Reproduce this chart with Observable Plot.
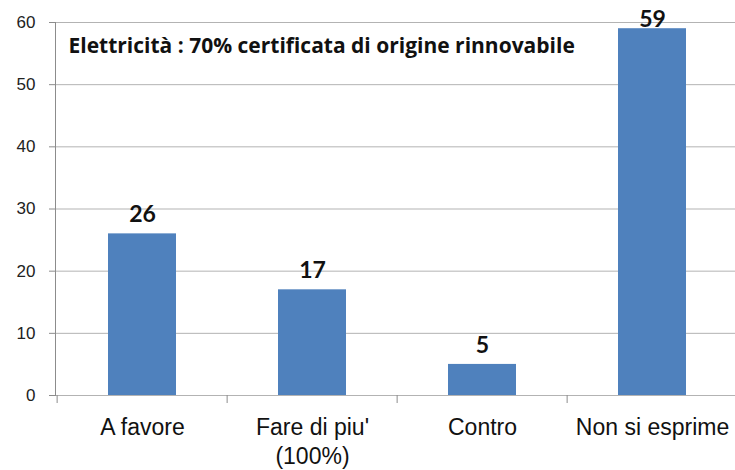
<!DOCTYPE html>
<html>
<head>
<meta charset="utf-8">
<script src="https://cdn.jsdelivr.net/npm/d3@7"></script>
<script src="https://cdn.jsdelivr.net/npm/@observablehq/plot@0.6"></script>
<style>
  html, body { margin: 0; padding: 0; background: #fff; }
  #chart svg { display: block; }
</style>
</head>
<body>
<div id="chart"></div>
<script>
const categories = ["A favore", "Fare di piu'\n(100%)", "Contro", "Non si esprime"];
const values = [26, 17, 5, 59];
const yTicks = [0, 10, 20, 30, 40, 50, 60];
const title = "Elettricità : 70% certificata di origine rinnovabile";

const data = categories.map((c, i) => ({category: c, value: values[i]}));
const step = (738 - 55) / categories.length;

const chart = Plot.plot({
  width: 735,
  height: 470,
  marginTop: 22,
  marginBottom: 75,
  marginLeft: 55,
  marginRight: -3,
  style: {fontFamily: "Liberation Sans, Arial, sans-serif", background: "#fff", overflow: "visible"},
  x: {type: "band", domain: categories, padding: 0.6, paddingOuter: 0.3, label: null},
  y: {domain: [0, 60], ticks: yTicks, label: null},
  marks: [
    Plot.ruleY(yTicks, {stroke: "#b3b3b3", strokeWidth: 1}),
    Plot.barY(data, {x: "category", y: "value", fill: "#4F81BD"}),
    Plot.frame({anchor: "left", stroke: "#8c8c8c"}),
    Plot.ruleX(categories, {x: d => d, y1: 0, y2: 0, dx: -step / 2, insetBottom: -8, stroke: "#8c8c8c"}),
    Plot.axisY({ticks: yTicks, tickSize: 6, tickPadding: 14, fontSize: 17, stroke: "#8c8c8c", color: "#222", label: null}),
    Plot.axisX({tickSize: 0, tickPadding: 19, fontSize: 23, lineHeight: 1.25, color: "#111", label: null}),
    Plot.text(data, {x: "category", y: d => Math.min(d.value + 1.9, 59.2), text: d => String(d.value), lineAnchor: "bottom", fontSize: 23, fontWeight: "bold", fontFamily: "Lato, sans-serif", fill: "#111"}),
    Plot.text([title], {frameAnchor: "top-left", dx: 13, dy: 16, textAnchor: "start", lineAnchor: "top", fontSize: 21, fontWeight: "bold", fontFamily: "Open Sans, sans-serif", fill: "#111"})
  ]
});
document.getElementById("chart").append(chart);
</script>
</body>
</html>
